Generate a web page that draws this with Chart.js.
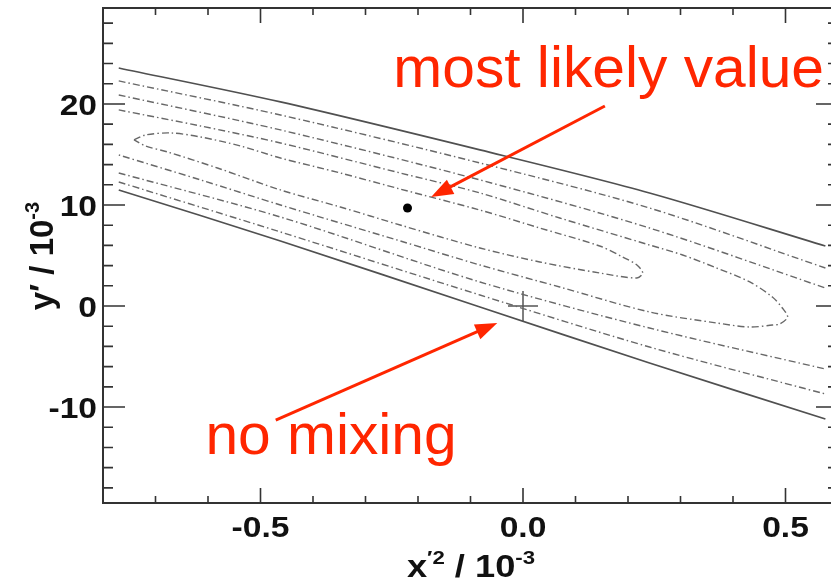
<!DOCTYPE html>
<html>
<head>
<meta charset="utf-8">
<script src="https://cdn.jsdelivr.net/npm/chart.js@4.4.1/dist/chart.umd.min.js"></script>
<style>
  html, body { margin: 0; padding: 0; background: #fff; overflow: hidden; }
  #wrap { width: 840px; height: 585px; overflow: hidden; }
  canvas { display: block; width: 840px; height: 585px; }
</style>
</head>
<body>
<div id="wrap"><canvas id="c" width="840" height="585"></canvas></div>
<script>
// ── Axis ranges and ticks (x'^2 and y' in units of 10^-3) ─────────────────
const xRange = [-0.8, 0.6];
const yRange = [-19.5, 29.5];
const xMajorTicks = [-0.5, 0.0, 0.5];
const xTickLabels = ['-0.5', '0.0', '0.5'];
const xMinorTicks = [-0.7, -0.6, -0.4, -0.3, -0.2, -0.1, 0.1, 0.2, 0.3, 0.4];
const yMajorTicks = [-10, 0, 10, 20];
const yTickLabels = ['-10', '0', '10', '20'];
const yMinorTicks = [-18, -16, -14, -12, -8, -6, -4, -2, 2, 4, 6, 8, 12, 14, 16, 18, 22, 24, 26, 28];

// ── Contours ─────────────────────────────────────────────────────────────
// outermost (solid) and the next two (dash-dot) are open: upper + lower branch
const openX    = [-0.770, -0.462, -0.082, 0.241, 0.576];
const c1UpperY = [23.56, 20.20, 15.45, 11.19, 5.94];
const c1LowerY = [11.49, 6.44, -0.10, -5.64, -11.19];
const c2UpperY = [22.28, 18.91, 14.16, 9.70, 3.76];
const c2LowerY = [12.28, 7.33, 1.09, -4.06, -8.71];
const c3UpperY = [20.89, 17.43, 12.48, 7.72, 1.78];
const c3LowerY = [13.17, 8.81, 2.38, -2.18, -6.24];
// fourth contour closes on the right side only
const c4X = [-0.770, -0.614, -0.462, -0.234, -0.082, 0.070, 0.241, 0.304, 0.369, 0.432, 0.475, 0.494,
             0.504, 0.489, 0.475, 0.432, 0.369, 0.241, 0.070, -0.082, -0.234, -0.462, -0.614, -0.770];
const c4Y = [19.41, 17.82, 16.14, 13.17, 11.19, 8.71, 6.04, 5.05, 3.76, 2.38, 0.89, -0.20,
             -1.09, -1.78, -1.88, -2.08, -1.68, -0.59, 1.88, 4.06, 6.44, 10.00, 12.48, 14.95];
// innermost contour, closed
const c5X = [-0.741, -0.719, -0.671, -0.614, -0.538, -0.462, -0.348, -0.234, -0.082, 0.032, 0.146, 0.190, 0.217,
             0.228, 0.217, 0.146, 0.032, -0.082, -0.234, -0.348, -0.462, -0.582, -0.677, -0.719, -0.741];
const c5Y = [16.44, 16.93, 17.13, 16.73, 15.84, 14.65, 13.17, 11.58, 9.50, 7.72, 5.94, 4.85, 4.06,
             3.27, 2.77, 3.27, 4.36, 5.74, 8.02, 9.80, 11.49, 13.66, 15.25, 15.84, 16.44];

// best fit point and the no-mixing point
const bestX = [-0.22], bestY = [9.7];
const noMixX = [0.0], noMixY = [0.0];

// ── Annotations (data coordinates) ───────────────────────────────────────
const notes = [
  { text: 'most likely value', x: -0.247, y: 21.68, from: [0.156, 19.80], to: [-0.175, 10.79] },
  { text: 'no mixing',         x: -0.605, y: -14.65, from: [-0.471, -11.29], to: [-0.049, -1.68] }
];

const zip = (xs, ys) => xs.map((x, i) => ({ x, y: ys[i] }));

const SOLID = '#505050';
const DASHC = '#686868';
const RED   = '#ff2600';
const INK   = '#111';

function solid(xs, ys) {
  return { data: zip(xs, ys), showLine: true, borderColor: SOLID, borderWidth: 1.7,
           pointRadius: 0, tension: 0.3, fill: false };
}
function dashed(xs, ys) {
  return { data: zip(xs, ys), showLine: true, borderColor: DASHC, borderWidth: 1.4,
           borderDash: [7, 3, 1.5, 3], pointRadius: 0, tension: 0.3, fill: false };
}

// ── text helper: horizontal stretch + superscript runs ───────────────────
function runsWidth(ctx, runs) {
  return runs.reduce((w, r) => { ctx.font = r.font; return w + ctx.measureText(r.t).width; }, 0);
}
function drawRuns(ctx, runs, cx, cy, sx, rot) {
  ctx.save();
  ctx.translate(cx, cy);
  if (rot) ctx.rotate(rot);
  ctx.scale(sx, 1);
  let px = -runsWidth(ctx, runs) / 2;
  ctx.textAlign = 'left';
  ctx.textBaseline = 'alphabetic';
  runs.forEach(r => {
    ctx.font = r.font;
    ctx.fillText(r.t, px, r.dy || 0);
    px += ctx.measureText(r.t).width;
  });
  ctx.restore();
}
function drawStretched(ctx, str, px, py, font, align, sx) {
  ctx.save();
  ctx.translate(px, py);
  ctx.scale(sx, 1);
  ctx.font = font;
  ctx.textAlign = align;
  ctx.textBaseline = 'alphabetic';
  ctx.fillText(str, 0, 0);
  ctx.restore();
}

// ── ROOT-style frame: inward ticks on four sides, labels, titles, notes ──
const framePlugin = {
  id: 'rootFrame',
  afterDatasetsDraw(chart) {
    const { ctx, chartArea: a, scales: { x, y } } = chart;
    ctx.save();
    ctx.strokeStyle = '#333';
    ctx.lineWidth = 2;
    ctx.strokeRect(a.left, a.top, a.right - a.left, a.bottom - a.top);

    ctx.lineWidth = 1.6;
    ctx.beginPath();
    const xt = (v, len) => {
      const p = x.getPixelForValue(v);
      ctx.moveTo(p, a.bottom); ctx.lineTo(p, a.bottom - len);
      ctx.moveTo(p, a.top);    ctx.lineTo(p, a.top + len);
    };
    const yt = (v, len) => {
      const p = y.getPixelForValue(v);
      ctx.moveTo(a.left, p);  ctx.lineTo(a.left + len, p);
      ctx.moveTo(a.right, p); ctx.lineTo(a.right - len, p);
    };
    xMajorTicks.forEach(v => xt(v, 15));
    xMinorTicks.forEach(v => xt(v, 7));
    yMajorTicks.forEach(v => yt(v, 22));
    yMinorTicks.forEach(v => yt(v, 10));
    ctx.stroke();

    // tick labels
    ctx.fillStyle = INK;
    const tickFont = 'bold 30px "Liberation Sans", Arial, sans-serif';
    xMajorTicks.forEach((v, i) =>
      drawStretched(ctx, xTickLabels[i], x.getPixelForValue(v), a.bottom + 34, tickFont, 'center', 1.12));
    yMajorTicks.forEach((v, i) =>
      drawStretched(ctx, yTickLabels[i], a.left - 6, y.getPixelForValue(v) + 11, tickFont, 'right', 1.12));

    // axis titles
    const big = 'bold 31px "Liberation Sans", Arial, sans-serif';
    const sup = 'bold 19px "Liberation Sans", Arial, sans-serif';
    drawRuns(ctx, [
      { t: 'x', font: big }, { t: '\u20322', font: sup, dy: -13 },
      { t: ' / 10', font: big }, { t: '-3', font: sup, dy: -13 }
    ], 471, 577, 1.17, 0);
    const bigY = 'bold 33px "Liberation Sans", Arial, sans-serif';
    const supY = 'bold 20px "Liberation Sans", Arial, sans-serif';
    drawRuns(ctx, [
      { t: 'y\u2032 / 10', font: bigY }, { t: '-3', font: supY, dy: -14 }
    ], 53, 256, 1, -Math.PI / 2);

    // red annotations with arrows
    ctx.fillStyle = RED;
    ctx.strokeStyle = RED;
    notes.forEach(n => {
      drawStretched(ctx, n.text, x.getPixelForValue(n.x), y.getPixelForValue(n.y),
                    '57px "Liberation Sans", Arial, sans-serif', 'left', 1.03);
      const x0 = x.getPixelForValue(n.from[0]), y0 = y.getPixelForValue(n.from[1]);
      const x1 = x.getPixelForValue(n.to[0]),   y1 = y.getPixelForValue(n.to[1]);
      const ang = Math.atan2(y1 - y0, x1 - x0);
      const hl = 22, hw = 8;
      const bx = x1 - hl * Math.cos(ang), by = y1 - hl * Math.sin(ang);
      ctx.lineWidth = 3;
      ctx.beginPath();
      ctx.moveTo(x0, y0);
      ctx.lineTo(bx + 4 * Math.cos(ang), by + 4 * Math.sin(ang));
      ctx.stroke();
      ctx.beginPath();
      ctx.moveTo(x1, y1);
      ctx.lineTo(bx - hw * Math.sin(ang), by + hw * Math.cos(ang));
      ctx.lineTo(bx + hw * Math.sin(ang), by - hw * Math.cos(ang));
      ctx.closePath();
      ctx.fill();
    });
    ctx.restore();
  }
};

new Chart(document.getElementById('c'), {
  type: 'scatter',
  data: {
    datasets: [
      solid(openX, c1UpperY),
      solid(openX, c1LowerY),
      dashed(openX, c2UpperY),
      dashed(openX, c2LowerY),
      dashed(openX, c3UpperY),
      dashed(openX, c3LowerY),
      dashed(c4X, c4Y),
      dashed(c5X, c5Y),
      { data: zip(noMixX, noMixY), pointStyle: 'cross', pointRadius: 15, borderColor: '#555',
        borderWidth: 1.5, showLine: false },
      { data: zip(bestX, bestY), pointStyle: 'circle', pointRadius: 4.5, backgroundColor: '#000',
        borderColor: '#000', borderWidth: 0, showLine: false }
    ]
  },
  options: {
    responsive: false,
    animation: false,
    devicePixelRatio: 1,
    layout: { autoPadding: false, padding: { left: 103, right: 2, top: 8, bottom: 82 } },
    plugins: { legend: { display: false }, tooltip: { enabled: false } },
    scales: {
      x: { type: 'linear', min: xRange[0], max: xRange[1], display: false },
      y: { type: 'linear', min: yRange[0], max: yRange[1], display: false }
    }
  },
  plugins: [framePlugin]
});
</script>
</body>
</html>
